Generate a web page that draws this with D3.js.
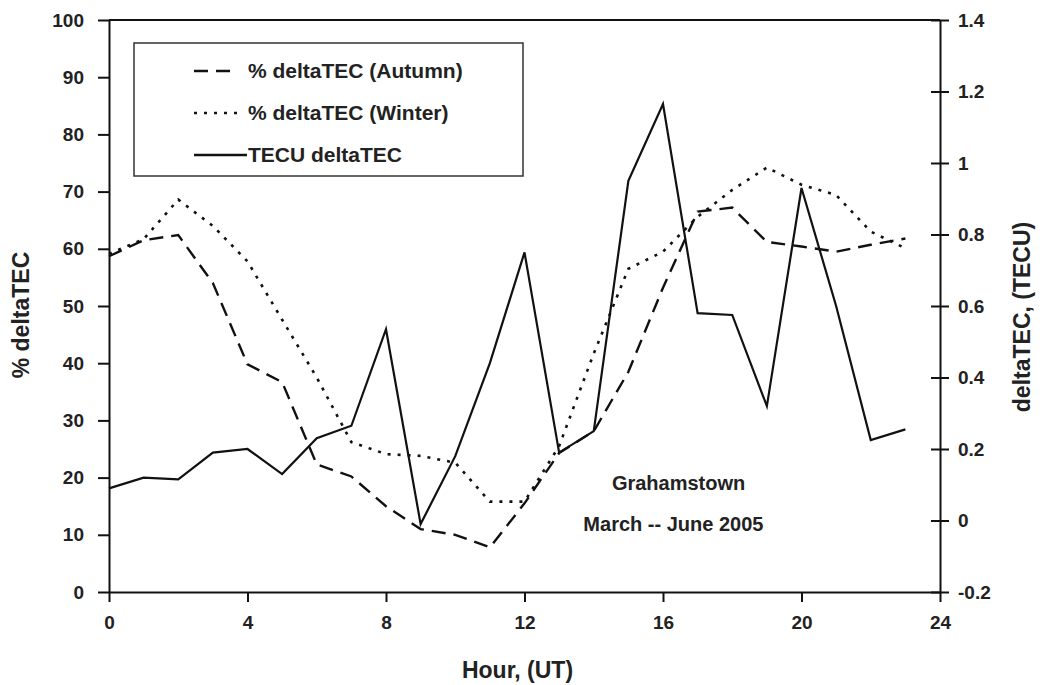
<!DOCTYPE html>
<html>
<head>
<meta charset="utf-8">
<script src="https://cdn.jsdelivr.net/npm/d3@7"></script>
<style>
  body { margin: 0; background: #fff; }
  svg { display: block; font-family: 'Liberation Sans', Arial, sans-serif; }
</style>
</head>
<body>
<svg width="1040" height="685"></svg>
<script>
const hours = d3.range(0, 24);
const autumnPct = [58.7, 61.5, 62.4, 54, 39.8, 36.7, 22.3, 20.2, 15.0, 11.0, 10.0, 7.8,
                   15.5, 24.3, 28.1, 38.5, 53.2, 66.5, 67.2, 61.2, 60.4, 59.5, 60.7, 61.8];
const winterPct = [59.1, 61.7, 68.6, 64, 57.8, 47.6, 37.5, 26.2, 24.1, 23.8, 22.6, 15.8,
                   15.8, 25.5, 41.7, 56.5, 59.5, 65.6, 70.3, 74.2, 71.2, 69.4, 63.0, 60.1];
const tecu = [0.09, 0.12, 0.115, 0.19, 0.2, 0.13, 0.23, 0.265, 0.535, -0.01, 0.18, 0.44,
              0.75, 0.19, 0.25, 0.95, 1.165, 0.58, 0.575, 0.32, 0.93, 0.6, 0.225, 0.255];
const xTicks = [0, 4, 8, 12, 16, 20, 24];
const leftTicks = [0, 10, 20, 30, 40, 50, 60, 70, 80, 90, 100];
const rightTicks = [-0.2, 0, 0.2, 0.4, 0.6, 0.8, 1, 1.2, 1.4];
const legendLabels = ['% deltaTEC (Autumn)', '% deltaTEC (Winter)', 'TECU deltaTEC'];

const svg = d3.select('svg');
const width = 1040;
const height = 685;
const margin = { top: 20, right: 100, bottom: 93, left: 109 };
const innerWidth = width - margin.left - margin.right;
const innerHeight = height - margin.top - margin.bottom;
const fontSize = 19;
const textColor = '#222';

const xScale = d3.scaleLinear().domain([0, 24]).range([0, innerWidth]);
const yLeft = d3.scaleLinear().domain([0, 100]).range([innerHeight, 0]);
const yRight = d3.scaleLinear().domain([-0.2, 1.4]).range([innerHeight, 0]);

const g = svg.append('g')
    .attr('transform', `translate(${margin.left},${margin.top})`);

// top frame line
g.append('line')
    .attr('x1', 0).attr('x2', innerWidth)
    .attr('y1', 0).attr('y2', 0)
    .attr('stroke', '#111').attr('stroke-width', 2);

const styleAxis = sel => {
    sel.attr('font-family', "'Liberation Sans', Arial, sans-serif")
        .attr('font-size', fontSize)
        .attr('font-weight', 'bold');
    sel.selectAll('path, line').attr('stroke', '#111').attr('stroke-width', 2);
    sel.selectAll('text').attr('fill', textColor);
};

g.append('g')
    .attr('transform', `translate(0,${innerHeight})`)
    .call(d3.axisBottom(xScale).tickValues(xTicks).tickSize(10).tickSizeOuter(0).tickPadding(14))
    .call(styleAxis);

g.append('g')
    .call(d3.axisLeft(yLeft).tickValues(leftTicks).tickSize(11).tickSizeOuter(0).tickPadding(14))
    .call(styleAxis);

const yRightG = g.append('g')
    .attr('transform', `translate(${innerWidth},0)`)
    .call(d3.axisRight(yRight).tickValues(rightTicks).tickSize(9).tickSizeOuter(0).tickPadding(9)
        .tickFormat(d => String(+d.toFixed(1))))
    .call(styleAxis);
// right ticks cross the axis
yRightG.selectAll('.tick line').attr('x1', -9);

// axis titles
const titleSize = 23;
g.append('text')
    .attr('transform', 'rotate(-90)')
    .attr('x', -(315 - margin.top))
    .attr('y', -80)
    .attr('text-anchor', 'middle')
    .attr('font-size', titleSize).attr('font-weight', 'bold').attr('fill', textColor)
    .text('% deltaTEC');

g.append('text')
    .attr('x', innerWidth / 2 - 7)
    .attr('y', innerHeight + 86)
    .attr('text-anchor', 'middle')
    .attr('font-size', titleSize).attr('font-weight', 'bold').attr('fill', textColor)
    .text('Hour, (UT)');

g.append('text')
    .attr('transform', 'rotate(-90)')
    .attr('x', -(317 - margin.top))
    .attr('y', innerWidth + 90)
    .attr('text-anchor', 'middle')
    .attr('font-size', titleSize).attr('font-weight', 'bold').attr('fill', textColor)
    .text('deltaTEC, (TECU)');

// series
const lineLeft = d3.line().x((d, i) => xScale(hours[i])).y(d => yLeft(d));
const lineRight = d3.line().x((d, i) => xScale(hours[i])).y(d => yRight(d));

const dashes = ['14,8', '3,7', null];

g.append('path')
    .attr('d', lineLeft(autumnPct))
    .attr('fill', 'none').attr('stroke', '#111').attr('stroke-width', 2.4)
    .attr('stroke-dasharray', dashes[0]);

g.append('path')
    .attr('d', lineLeft(winterPct))
    .attr('fill', 'none').attr('stroke', '#111').attr('stroke-width', 2.6)
    .attr('stroke-dasharray', dashes[1]);

g.append('path')
    .attr('d', lineRight(tecu))
    .attr('fill', 'none').attr('stroke', '#111').attr('stroke-width', 2.2);

// legend
const legend = g.append('g').attr('transform', 'translate(25,23)');
legend.append('rect')
    .attr('width', 389).attr('height', 133)
    .attr('fill', 'none').attr('stroke', '#333').attr('stroke-width', 1.5);

const rows = legend.selectAll('g.row')
    .data(legendLabels)
    .join('g')
    .attr('class', 'row')
    .attr('transform', (d, i) => `translate(0,${28 + i * 42})`);

rows.append('line')
    .attr('x1', 60).attr('x2', (d, i) => [104, 108, 113][i])
    .attr('y1', 0).attr('y2', 0)
    .attr('stroke', '#111').attr('stroke-width', 2.4)
    .attr('stroke-dasharray', (d, i) => dashes[i]);

rows.append('text')
    .attr('x', 114)
    .attr('dy', '0.35em')
    .attr('font-size', 21).attr('font-weight', 'bold').attr('fill', textColor)
    .text(d => d);

// annotation
g.append('text')
    .attr('x', xScale(16.45))
    .attr('y', yRight(0.085))
    .attr('text-anchor', 'middle')
    .attr('font-size', 20).attr('font-weight', 'bold').attr('fill', textColor)
    .text('Grahamstown');

g.append('text')
    .attr('x', xScale(16.3))
    .attr('y', yRight(-0.03))
    .attr('text-anchor', 'middle')
    .attr('font-size', 20).attr('font-weight', 'bold').attr('fill', textColor)
    .text('March -- June 2005');
</script>
</body>
</html>
